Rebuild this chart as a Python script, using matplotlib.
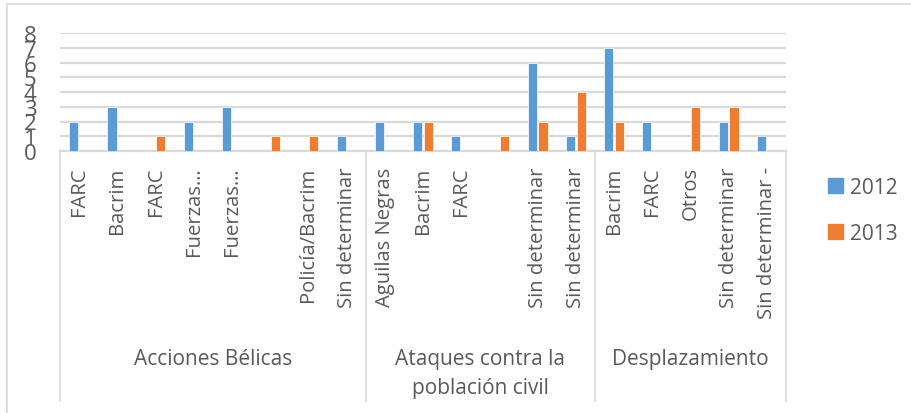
import matplotlib.pyplot as plt
import numpy as np
from matplotlib.lines import Line2D
from matplotlib.patches import Patch

# data
groups = ["Acciones Bélicas", "Ataques contra la\npoblación civil", "Desplazamiento"]
group_sizes = [8, 6, 5]
categories = ["FARC", "Bacrim", "FARC", "Fuerzas…", "Fuerzas…", "", "Policía/Bacrim", "Sin determinar",
              "Aguilas Negras", "Bacrim", "FARC", "", "Sin determinar", "Sin determinar",
              "Bacrim", "FARC", "Otros", "Sin determinar", "Sin determinar -"]
v2012 = [2, 3, 0, 2, 3, 0, 0, 1,
         2, 2, 1, 0, 6, 1,
         7, 2, 0, 2, 1]
v2013 = [0, 0, 1, 0, 0, 1, 1, 0,
         0, 2, 0, 1, 2, 4,
         2, 0, 3, 3, 0]
yticks = [0, 1, 2, 3, 4, 5, 6, 7, 8]

BLUE = "#5B9BD5"
ORANGE = "#ED7D31"
TXT = "#595959"
GRID = "#D9D9D9"
FONT = "Open Sans"

plt.rcParams['font.family'] = [FONT, 'DejaVu Sans']

fig = plt.figure(figsize=(9.11, 4.14), dpi=100)
ax = fig.add_axes([60 / 911, 1 - 152 / 414, (786 - 60) / 911, (152 - 34) / 414])

x = np.arange(len(categories))
w = 0.24
ax.bar(x - 0.14, v2012, w, color=BLUE, edgecolor="white", linewidth=0.5, zorder=3)
ax.bar(x + 0.14, v2013, w, color=ORANGE, edgecolor="white", linewidth=0.5, zorder=3)

ax.set_xlim(-0.5, len(categories) - 0.5)
ax.set_ylim(0, 8)
ax.set_yticks(yticks)
ax.yaxis.grid(True, color=GRID, linewidth=1.6, zorder=0)
for s in ax.spines.values():
    s.set_visible(False)
ax.tick_params(axis="y", length=0, pad=17, labelsize=16, labelcolor=TXT)

ax.set_xticks(x)
ax.set_xticklabels(categories, rotation=90, fontsize=14.6, color=TXT, va="top", ha="center")
ax.tick_params(axis="x", length=0, pad=11)

# box lines below the axis
trans = ax.get_xaxis_transform()
ax.plot([-0.5, len(categories) - 0.5], [0, 0], color=GRID, lw=1.6, transform=trans, clip_on=False)
low = -(402 - 152) / 118
edges = np.concatenate([[0], np.cumsum(group_sizes)]) - 0.5
for e in edges:
    ax.plot([e, e], [0, low], color=GRID, lw=1.2, transform=trans, clip_on=False)

for i, g in enumerate(groups):
    cx = (edges[i] + edges[i + 1]) / 2
    lines = g.split("\n")
    for j, line in enumerate(lines):
        yy = -(360 + 29 * j - 152) / 118
        ax.text(cx, yy, line, transform=trans, ha="center", va="center", fontsize=15, color=TXT)

# outer chart border
fig.add_artist(Line2D([7 / 911, 7 / 911], [0, 1 - 5 / 414], color=GRID, lw=1.2))
fig.add_artist(Line2D([7 / 911, 1], [1 - 5 / 414, 1 - 5 / 414], color=GRID, lw=1.2))

handles = [Patch(color=BLUE), Patch(color=ORANGE)]
fig.legend(handles, ["2012", "2013"], loc="center left", bbox_to_anchor=(828 / 911, 1 - 211 / 414),
           frameon=False, fontsize=15, labelcolor=TXT, handlelength=0.7, handleheight=0.7,
           handletextpad=0.35, labelspacing=1.2, borderpad=0, borderaxespad=0)

fig.savefig("out.png", dpi=100)
